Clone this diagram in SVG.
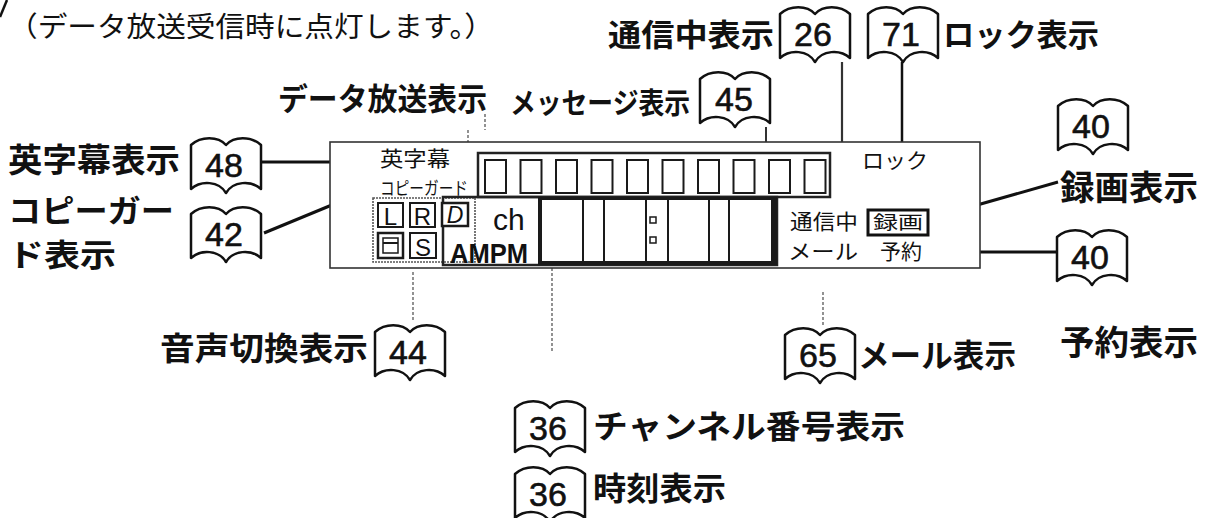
<svg xmlns="http://www.w3.org/2000/svg" xmlns:xlink="http://www.w3.org/1999/xlink" width="1206" height="518" viewBox="0 0 1206 518">
<style>
.lbl{font-family:"Noto Sans CJK JP","Noto Sans CJK SC",sans-serif;font-weight:bold;fill:#111}
.reg{font-family:"Noto Sans CJK JP","Noto Sans CJK SC",sans-serif;font-weight:normal;fill:#111}
.num{font-family:"Liberation Sans",Arial,sans-serif;font-size:34px;fill:#111;text-anchor:middle;stroke:#111;stroke-width:0.6}
.lat{font-family:"Liberation Sans",Arial,sans-serif;fill:#111}
.book{fill:#fff;stroke:#111;stroke-width:2.5;stroke-linejoin:round}
.ln{stroke:#111;stroke-width:3;fill:none}
.dot{stroke:#777;stroke-width:1.6;stroke-dasharray:3 2;fill:none}
.box{fill:#fff;stroke:#1a1a1a;stroke-width:2}
</style>
<defs>
<path id="bk" d="M0,8 C10,-1 27,-1 35,8 C43,-1 60,-1 70,8 L70,52 C60,43 42,44 35,56 C28,44 10,43 0,52 Z"/>
</defs>

<path d="M0,17 L7,0" stroke="#111" stroke-width="2.5"/>

<g id="connectors">
<line class="ln" x1="262" y1="162" x2="373" y2="162"/>
<line class="ln" x1="264" y1="233" x2="373" y2="188"/>
<line x1="842" y1="62" x2="842" y2="142" stroke="#333" stroke-width="2.2"/>
<line class="dot" x1="842" y1="142" x2="842" y2="206"/>
<line x1="902" y1="62" x2="902" y2="148" stroke="#111" stroke-width="2.5"/>
<line x1="766" y1="127" x2="766" y2="153" stroke="#333" stroke-width="2"/>
<line class="dot" x1="485" y1="114" x2="485" y2="130"/>
<line class="dot" x1="468" y1="130" x2="468" y2="146"/>
<line class="ln" x1="928" y1="219" x2="1058" y2="182"/>
<line class="ln" x1="926" y1="252" x2="1057" y2="252"/>
<line class="dot" x1="413" y1="272" x2="413" y2="322"/>
<line class="dot" x1="552" y1="268" x2="552" y2="352"/>
<line class="dot" x1="823" y1="292" x2="823" y2="325"/>
</g>

<g id="caption"><text class="reg" x="8" y="37" font-size="28" textLength="486" lengthAdjust="spacingAndGlyphs">（データ放送受信時に点灯します。）</text></g>

<g id="panel">
<rect x="330" y="142" width="650" height="126" fill="#fff" stroke="#333" stroke-width="1.6"/>
<text class="reg" x="380" y="166" font-size="21" textLength="70" lengthAdjust="spacingAndGlyphs">英字幕</text>
<text class="reg" x="380" y="195" font-size="18" textLength="88" lengthAdjust="spacingAndGlyphs">コピーガード</text>
<rect x="478" y="153" width="352" height="44" fill="none" stroke="#222" stroke-width="2.5"/>
<g fill="#fff" stroke="#1a1a1a" stroke-width="2">
<rect x="485" y="160" width="21" height="33"/><rect x="520.5" y="160" width="21" height="33"/>
<rect x="556" y="160" width="21" height="33"/><rect x="591.5" y="160" width="21" height="33"/>
<rect x="627" y="160" width="21" height="33"/><rect x="662.5" y="160" width="21" height="33"/>
<rect x="698" y="160" width="21" height="33"/><rect x="733.5" y="160" width="21" height="33"/>
<rect x="769" y="160" width="21" height="33"/><rect x="804.5" y="160" width="21" height="33"/>
</g>
<rect x="373" y="198" width="102" height="64" fill="none" stroke="#555" stroke-width="1.6" stroke-dasharray="2 1"/>
<rect x="443" y="197" width="334" height="68" fill="none" stroke="#222" stroke-width="2.5"/>
<rect class="box" x="378" y="203" width="25" height="24"/>
<rect class="box" x="410" y="203" width="25" height="24"/>
<rect x="442" y="203" width="26" height="23" fill="#fff" stroke="#1a1a1a" stroke-width="2.5"/>
<rect x="378" y="233" width="25" height="25" fill="#fff" stroke="#1a1a1a" stroke-width="2.5"/>
<rect x="383" y="238" width="15" height="15" fill="none" stroke="#1a1a1a" stroke-width="1.5"/>
<line x1="383" y1="243" x2="398" y2="243" stroke="#1a1a1a" stroke-width="2"/>
<rect class="box" x="410" y="233" width="26" height="25"/>
<text class="lat" x="390.5" y="225" font-size="24" text-anchor="middle">L</text>
<text class="lat" x="422.5" y="225" font-size="24" text-anchor="middle">R</text>
<text class="lat" x="455" y="223" font-size="23" text-anchor="middle" font-style="italic">D</text>
<text class="lat" x="423" y="256" font-size="24" text-anchor="middle">S</text>
<text class="lat" x="493" y="230" font-size="30">ch</text>
<text class="lat" x="450" y="263" font-size="28" font-weight="bold" textLength="78" lengthAdjust="spacingAndGlyphs">AMPM</text>
<rect x="538" y="197" width="239" height="68" fill="#1a1a1a"/>
<g fill="#fff">
<rect x="542" y="200" width="40" height="61"/><rect x="584" y="200" width="19" height="61"/>
<rect x="605" y="200" width="40" height="61"/><rect x="647" y="200" width="20" height="61"/>
<rect x="669" y="200" width="39" height="61"/><rect x="710" y="200" width="18" height="61"/>
<rect x="730" y="200" width="41" height="61"/>
</g>
<rect x="650" y="217" width="6" height="6" fill="#fff" stroke="#1a1a1a" stroke-width="1.5"/>
<rect x="650" y="237" width="6" height="6" fill="#fff" stroke="#1a1a1a" stroke-width="1.5"/>
<text class="reg" x="862" y="168" font-size="21" textLength="66" lengthAdjust="spacingAndGlyphs">ロック</text>
<text class="reg" x="790" y="229" font-size="21" textLength="68" lengthAdjust="spacingAndGlyphs">通信中</text>
<rect x="868" y="210" width="60" height="25" fill="#fff" stroke="#111" stroke-width="3"/>
<text class="reg" x="873" y="229" font-size="18" font-weight="bold" textLength="50" lengthAdjust="spacingAndGlyphs">録画</text>
<text class="reg" x="788" y="259" font-size="21" textLength="70" lengthAdjust="spacingAndGlyphs">メール</text>
<text class="reg" x="880" y="259" font-size="21" textLength="42" lengthAdjust="spacingAndGlyphs">予約</text>
</g>

<g id="n-data"><text class="lbl" x="278" y="110" font-size="31" textLength="209" lengthAdjust="spacingAndGlyphs">データ放送表示</text></g>
<g id="n-tsushin"><text class="lbl" x="608" y="46" font-size="31" textLength="166" lengthAdjust="spacingAndGlyphs">通信中表示</text>
<use xlink:href="#bk" class="book" x="780" y="6"/><text class="num" x="813" y="46">26</text></g>
<g id="n-lock"><use xlink:href="#bk" class="book" x="868" y="6"/><text class="num" x="901" y="46">71</text>
<text class="lbl" x="943" y="46" font-size="31" textLength="156" lengthAdjust="spacingAndGlyphs">ロック表示</text></g>
<g id="n-msg"><text class="lbl" x="510" y="114" font-size="29" textLength="180" lengthAdjust="spacingAndGlyphs">メッセージ表示</text>
<use xlink:href="#bk" class="book" x="700" y="71"/><text class="num" x="734" y="111">45</text></g>
<g id="n-eiji"><text class="lbl" x="8" y="172" font-size="33" textLength="172" lengthAdjust="spacingAndGlyphs">英字幕表示</text>
<use xlink:href="#bk" class="book" x="191" y="137"/><text class="num" x="224" y="177">48</text></g>
<g id="n-copy"><text class="lbl" x="8" y="222" font-size="31" textLength="166" lengthAdjust="spacingAndGlyphs">コピーガー</text>
<text class="lbl" x="8" y="266" font-size="31" textLength="108" lengthAdjust="spacingAndGlyphs">ド表示</text>
<use xlink:href="#bk" class="book" x="191" y="206"/><text class="num" x="224" y="246">42</text></g>
<g id="n-rec"><use xlink:href="#bk" class="book" x="1058" y="98"/><text class="num" x="1091" y="138">40</text>
<text class="lbl" x="1060" y="200" font-size="34" textLength="138" lengthAdjust="spacingAndGlyphs">録画表示</text></g>
<g id="n-yoyaku"><use xlink:href="#bk" class="book" x="1057" y="229"/><text class="num" x="1090" y="269">40</text>
<text class="lbl" x="1060" y="355" font-size="34" textLength="138" lengthAdjust="spacingAndGlyphs">予約表示</text></g>
<g id="n-audio"><text class="lbl" x="160" y="360" font-size="32" textLength="208" lengthAdjust="spacingAndGlyphs">音声切換表示</text>
<use xlink:href="#bk" class="book" x="375" y="324"/><text class="num" x="408" y="364">44</text></g>
<g id="n-mail"><use xlink:href="#bk" class="book" x="785" y="327"/><text class="num" x="818" y="367">65</text>
<text class="lbl" x="858" y="367" font-size="32" textLength="158" lengthAdjust="spacingAndGlyphs">メール表示</text></g>
<g id="n-ch"><use xlink:href="#bk" class="book" x="515" y="400"/><text class="num" x="548" y="440">36</text>
<text class="lbl" x="593" y="438" font-size="32" textLength="312" lengthAdjust="spacingAndGlyphs">チャンネル番号表示</text></g>
<g id="n-time"><use xlink:href="#bk" class="book" x="515" y="466"/><text class="num" x="548" y="506">36</text>
<text class="lbl" x="593" y="500" font-size="32" textLength="133" lengthAdjust="spacingAndGlyphs">時刻表示</text></g>
</svg>
